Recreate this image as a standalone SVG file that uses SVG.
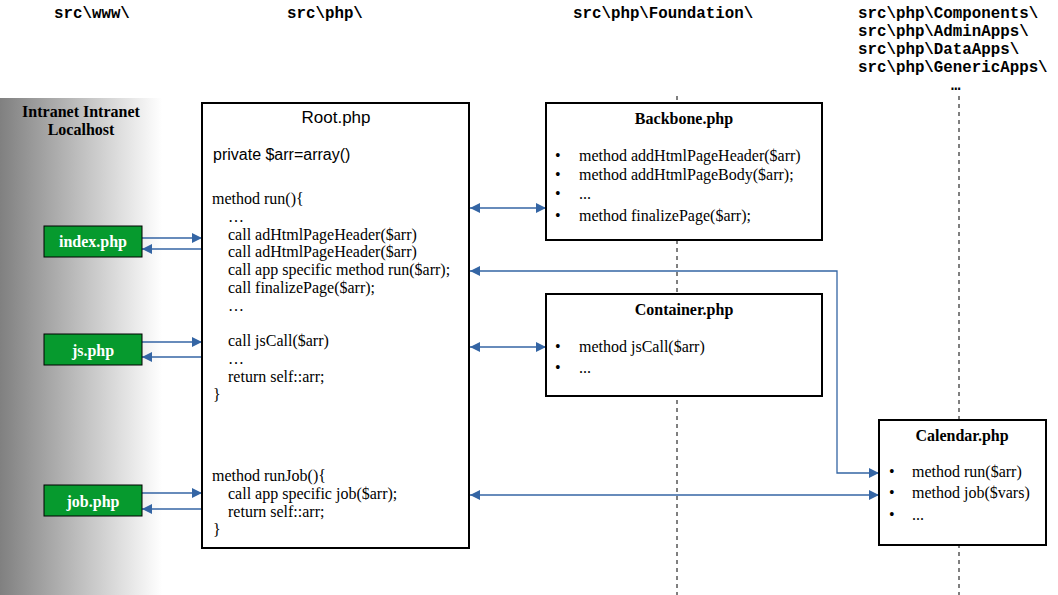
<svg xmlns="http://www.w3.org/2000/svg" width="1058" height="595" viewBox="0 0 1058 595">
<style>
.hdr{font-family:"Liberation Mono",monospace;font-weight:bold;font-size:15.8px;fill:#000}
.box{fill:#fff;stroke:#000;stroke-width:2}
.btn{fill:#069a2e;stroke:#000;stroke-width:1}
.btxt{font-family:"Liberation Serif",serif;font-weight:bold;font-size:16px;fill:#fff;text-anchor:middle}
.ttl{font-family:"Liberation Serif",serif;font-weight:bold;font-size:16px;fill:#000;text-anchor:middle}
.code{font-family:"Liberation Serif",serif;font-size:16px;fill:#000}
.sans{font-family:"Liberation Sans",sans-serif;font-size:16px;fill:#000}
.dash{stroke:#000;stroke-width:1;stroke-dasharray:4,4;fill:none}
.con{stroke:#3465a4;stroke-width:1.3;fill:none}
</style>
<defs>
<linearGradient id="g" x1="0" y1="0" x2="1" y2="0">
<stop offset="0" stop-color="#808080"/>
<stop offset="1" stop-color="#ffffff"/>
</linearGradient>
<marker id="ah" viewBox="0 0 10 10" refX="10" refY="5" markerWidth="10" markerHeight="10" markerUnits="userSpaceOnUse" orient="auto-start-reverse">
<path d="M0,0 L10,5 L0,10 z" fill="#3465a4"/>
</marker>
</defs>
<rect width="1058" height="595" fill="#fff"/>
<rect x="0" y="98" width="162" height="497" fill="url(#g)"/>
<text class="hdr" x="54" y="18">src\www\</text>
<text class="hdr" x="287" y="18">src\php\</text>
<text class="hdr" x="573" y="18">src\php\Foundation\</text>
<text class="hdr" x="858" y="18">src\php\Components\</text>
<text class="hdr" x="858" y="36">src\php\AdminApps\</text>
<text class="hdr" x="858" y="54">src\php\DataApps\</text>
<text class="hdr" x="858" y="72">src\php\GenericApps\</text>
<text class="hdr" x="951" y="90">…</text>
<text class="ttl" x="81" y="117">Intranet Intranet</text>
<text class="ttl" x="81" y="135">Localhost</text>
<line class="dash" x1="677" y1="96" x2="677" y2="595"/>
<line class="dash" x1="959" y1="96" x2="959" y2="595"/>
<g id="connectors">
<line class="con" x1="142" y1="238" x2="202" y2="238" marker-end="url(#ah)"/>
<line class="con" x1="202" y1="249" x2="142" y2="249" marker-end="url(#ah)"/>
<line class="con" x1="142" y1="342" x2="202" y2="342" marker-end="url(#ah)"/>
<line class="con" x1="202" y1="357" x2="142" y2="357" marker-end="url(#ah)"/>
<line class="con" x1="142" y1="493" x2="202" y2="493" marker-end="url(#ah)"/>
<line class="con" x1="202" y1="509" x2="142" y2="509" marker-end="url(#ah)"/>
<line class="con" x1="470" y1="208" x2="546" y2="208" marker-start="url(#ah)" marker-end="url(#ah)"/>
<line class="con" x1="470" y1="347" x2="546" y2="347" marker-start="url(#ah)" marker-end="url(#ah)"/>
<polyline class="con" points="470,271 837,271 837,473 879,473" marker-start="url(#ah)" marker-end="url(#ah)"/>
<line class="con" x1="470" y1="495" x2="879" y2="495" marker-start="url(#ah)" marker-end="url(#ah)"/>
</g>
<g id="index">
<rect class="btn" x="44" y="226" width="98" height="31"/>
<text class="btxt" x="93" y="247">index.php</text>
</g>
<g id="js">
<rect class="btn" x="44" y="334" width="98" height="31"/>
<text class="btxt" x="93" y="356">js.php</text>
</g>
<g id="job">
<rect class="btn" x="44" y="485" width="98" height="31"/>
<text class="btxt" x="93" y="507">job.php</text>
</g>
<g id="root">
<rect class="box" x="202" y="103" width="267" height="445"/>
<text class="sans" x="336" y="123" text-anchor="middle" style="font-size:17px">Root.php</text>
<text class="sans" x="213" y="160">private $arr=array()</text>
<text class="code" x="212" y="204">method run(){</text>
<text class="code" x="228" y="222">…</text>
<text class="code" x="228" y="240">call adHtmlPageHeader($arr)</text>
<text class="code" x="228" y="257">call adHtmlPageHeader($arr)</text>
<text class="code" x="228" y="275">call app specific method run($arr);</text>
<text class="code" x="228" y="293">call finalizePage($arr);</text>
<text class="code" x="228" y="311">…</text>
<text class="code" x="228" y="346">call jsCall($arr)</text>
<text class="code" x="228" y="364">…</text>
<text class="code" x="228" y="382">return self::arr;</text>
<text class="code" x="213" y="400">}</text>
<text class="code" x="212" y="481">method runJob(){</text>
<text class="code" x="228" y="499">call app specific job($arr);</text>
<text class="code" x="228" y="517">return self::arr;</text>
<text class="code" x="213" y="535">}</text>
</g>
<g id="backbone">
<rect class="box" x="546" y="103" width="276" height="137"/>
<text class="ttl" x="684" y="124">Backbone.php</text>
<text class="code" x="555" y="161">•</text>
<text class="code" x="579" y="161">method addHtmlPageHeader($arr)</text>
<text class="code" x="555" y="180">•</text>
<text class="code" x="579" y="180">method addHtmlPageBody($arr);</text>
<text class="code" x="555" y="199">•</text>
<text class="code" x="579" y="199">...</text>
<text class="code" x="555" y="221">•</text>
<text class="code" x="579" y="221">method finalizePage($arr);</text>
</g>
<g id="container">
<rect class="box" x="546" y="294" width="276" height="102"/>
<text class="ttl" x="684" y="315">Container.php</text>
<text class="code" x="555" y="352">•</text>
<text class="code" x="579" y="352">method jsCall($arr)</text>
<text class="code" x="555" y="373">•</text>
<text class="code" x="579" y="373">...</text>
</g>
<g id="calendar">
<rect class="box" x="879" y="420" width="167" height="125"/>
<text class="ttl" x="962" y="441">Calendar.php</text>
<text class="code" x="889" y="477">•</text>
<text class="code" x="912" y="477">method run($arr)</text>
<text class="code" x="889" y="498">•</text>
<text class="code" x="912" y="498">method job($vars)</text>
<text class="code" x="889" y="520">•</text>
<text class="code" x="912" y="520">...</text>
</g>
</svg>
